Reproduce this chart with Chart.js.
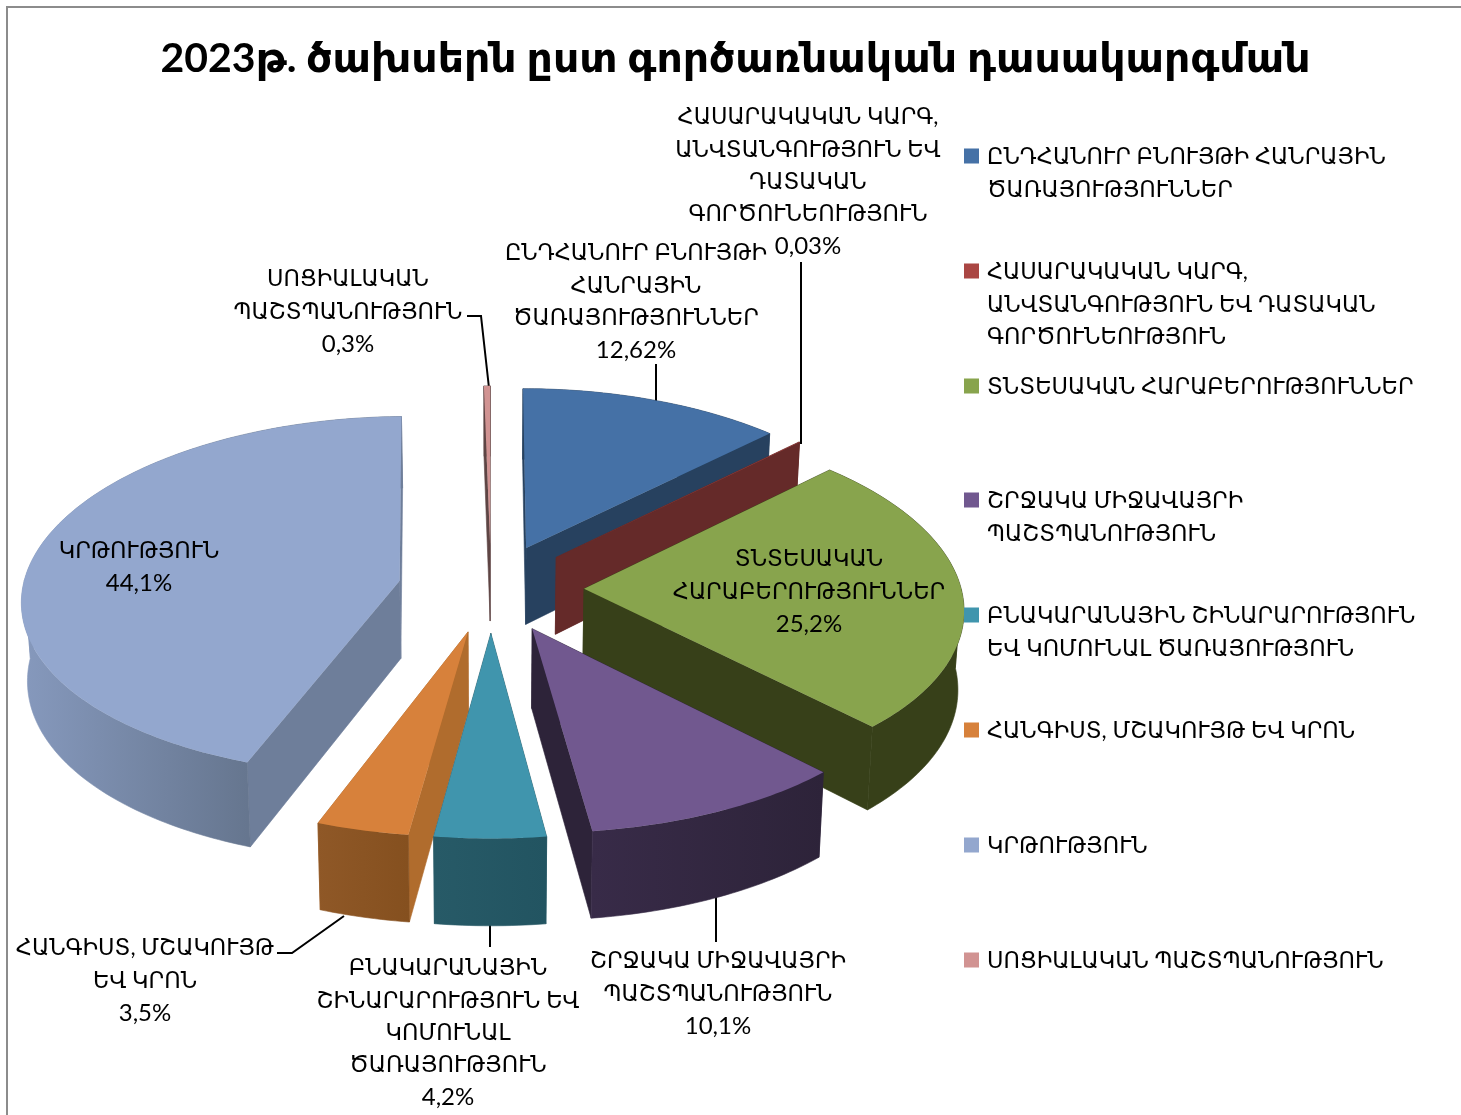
<!DOCTYPE html>
<html lang="hy">
<head>
<meta charset="utf-8">
<title>2023թ. ծախսերն ըստ գործառնական դասակարգման</title>
<style>
html,body{margin:0;padding:0;background:#fff;overflow:hidden}
#wrap{position:absolute;left:0;top:0;width:1461px;height:1115px}
#frameTop{position:absolute;left:6px;top:6px;width:1455px;height:2px;background:#8c8c8c}
#frameLeft{position:absolute;left:6px;top:6px;width:2px;height:1109px;background:#8c8c8c}
canvas{position:absolute;left:0;top:0}
</style>
<script src="https://cdn.jsdelivr.net/npm/chart.js@4/dist/chart.umd.min.js"></script>
</head>
<body>
<div id="wrap">
<canvas id="c" width="1461" height="1115"></canvas>
<div id="frameTop"></div><div id="frameLeft"></div>
</div>
<script>
const titleText = "2023թ. ծախսերն ըստ գործառնական դասակարգման";
const categories = [
  "ԸՆԴՀԱՆՈՒՐ ԲՆՈՒՅԹԻ ՀԱՆՐԱՅԻՆ ԾԱՌԱՅՈՒԹՅՈՒՆՆԵՐ",
  "ՀԱՍԱՐԱԿԱԿԱՆ ԿԱՐԳ, ԱՆՎՏԱՆԳՈՒԹՅՈՒՆ ԵՎ ԴԱՏԱԿԱՆ ԳՈՐԾՈՒՆԵՈՒԹՅՈՒՆ",
  "ՏՆՏԵՍԱԿԱՆ ՀԱՐԱԲԵՐՈՒԹՅՈՒՆՆԵՐ",
  "ՇՐՋԱԿԱ ՄԻՋԱՎԱՅՐԻ ՊԱՇՏՊԱՆՈՒԹՅՈՒՆ",
  "ԲՆԱԿԱՐԱՆԱՅԻՆ ՇԻՆԱՐԱՐՈՒԹՅՈՒՆ ԵՎ ԿՈՄՈՒՆԱԼ ԾԱՌԱՅՈՒԹՅՈՒՆ",
  "ՀԱՆԳԻՍՏ, ՄՇԱԿՈՒՅԹ ԵՎ ԿՐՈՆ",
  "ԿՐԹՈՒԹՅՈՒՆ",
  "ՍՈՑԻԱԼԱԿԱՆ ՊԱՇՏՊԱՆՈՒԹՅՈՒՆ"
];
const values = [12.62, 0.03, 25.2, 10.1, 4.2, 3.5, 44.1, 0.3];
const valueLabels = ["12,62%", "0,03%", "25,2%", "10,1%", "4,2%", "3,5%", "44,1%", "0,3%"];

// Line breaks of the texts
const legendLines = [
  ["ԸՆԴՀԱՆՈՒՐ ԲՆՈՒՅԹԻ ՀԱՆՐԱՅԻՆ", "ԾԱՌԱՅՈՒԹՅՈՒՆՆԵՐ"],
  ["ՀԱՍԱՐԱԿԱԿԱՆ ԿԱՐԳ,", "ԱՆՎՏԱՆԳՈՒԹՅՈՒՆ ԵՎ ԴԱՏԱԿԱՆ", "ԳՈՐԾՈՒՆԵՈՒԹՅՈՒՆ"],
  ["ՏՆՏԵՍԱԿԱՆ ՀԱՐԱԲԵՐՈՒԹՅՈՒՆՆԵՐ"],
  ["ՇՐՋԱԿԱ ՄԻՋԱՎԱՅՐԻ", "ՊԱՇՏՊԱՆՈՒԹՅՈՒՆ"],
  ["ԲՆԱԿԱՐԱՆԱՅԻՆ ՇԻՆԱՐԱՐՈՒԹՅՈՒՆ", "ԵՎ ԿՈՄՈՒՆԱԼ ԾԱՌԱՅՈՒԹՅՈՒՆ"],
  ["ՀԱՆԳԻՍՏ, ՄՇԱԿՈՒՅԹ ԵՎ ԿՐՈՆ"],
  ["ԿՐԹՈՒԹՅՈՒՆ"],
  ["ՍՈՑԻԱԼԱԿԱՆ ՊԱՇՏՊԱՆՈՒԹՅՈՒՆ"]
];
const dataLabelLines = [
  ["ԸՆԴՀԱՆՈՒՐ ԲՆՈՒՅԹԻ", "ՀԱՆՐԱՅԻՆ", "ԾԱՌԱՅՈՒԹՅՈՒՆՆԵՐ"],
  ["ՀԱՍԱՐԱԿԱԿԱՆ ԿԱՐԳ,", "ԱՆՎՏԱՆԳՈՒԹՅՈՒՆ ԵՎ", "ԴԱՏԱԿԱՆ", "ԳՈՐԾՈՒՆԵՈՒԹՅՈՒՆ"],
  ["ՏՆՏԵՍԱԿԱՆ", "ՀԱՐԱԲԵՐՈՒԹՅՈՒՆՆԵՐ"],
  ["ՇՐՋԱԿԱ ՄԻՋԱՎԱՅՐԻ", "ՊԱՇՏՊԱՆՈՒԹՅՈՒՆ"],
  ["ԲՆԱԿԱՐԱՆԱՅԻՆ", "ՇԻՆԱՐԱՐՈՒԹՅՈՒՆ ԵՎ", "ԿՈՄՈՒՆԱԼ", "ԾԱՌԱՅՈՒԹՅՈՒՆ"],
  ["ՀԱՆԳԻՍՏ, ՄՇԱԿՈՒՅԹ", "ԵՎ ԿՐՈՆ"],
  ["ԿՐԹՈՒԹՅՈՒՆ"],
  ["ՍՈՑԻԱԼԱԿԱՆ", "ՊԱՇՏՊԱՆՈՒԹՅՈՒՆ"]
];

// Styles and layout (not data)
const topColors = ["#4571a6", "#aa4643", "#88a44d", "#71588f", "#4095ad", "#d7813b", "#93a7ce", "#d19392"];
const radialWall = ["#27415f", "#652a29", "#374019", "#2d2339", "#255966", "#b06c2d", "#6e7e9a", "#5e4544"];
const outerFrom = ["#27415f", "#652a29", "#374019", "#2d2339", "#225461", "#85501f", "#66768f", "#5e4544"];
const outerTo   = ["#27415f", "#652a29", "#374019", "#382b48", "#275a67", "#8f5827", "#8699bd", "#5e4544"];
const legendCenterY = [157, 272, 387, 501, 616, 731, 846, 961];
const labelCenterX = [636, 808, 809, 718, 448, 145, 139, 348];
const labelFirstY = [253, 117, 559, 961, 968, 948, 551, 279];
const leaders = [
  [[656,364],[656,402]],
  [[801,262],[801,444]],
  [],
  [[716,896],[716,942]],
  [[490,925],[490,947]],
  [[277,953],[292,953],[344,916]],
  [],
  [[467,316],[481,316],[489,388]]
];
const PIE = {cx: 491, cy: 588, explode: 93, tilt: 0.476, perspX: 3800, perspY: 4400, depth: 78, shrink: 0.987};
const FONT = "'Lato','DejaVu Sans',sans-serif";
const TEXT_SIZE = 22.5, LINE_H = 32.4;

function project(u, v, low){
  const sx = PIE.perspX/(PIE.perspX+v), sy = PIE.perspY/(PIE.perspY+v);
  let x = PIE.cx + u*sx, y = PIE.cy - v*PIE.tilt*sy;
  if(low){ x = PIE.cx + (x-PIE.cx)*PIE.shrink; y += PIE.depth*sy; }
  return [x,y];
}
function poly(ctx, pts, fill, seal){
  ctx.beginPath();
  pts.forEach((p,i)=> i?ctx.lineTo(p[0],p[1]):ctx.moveTo(p[0],p[1]));
  ctx.closePath();
  ctx.fillStyle = fill; ctx.fill();
  if(seal){ ctx.strokeStyle = fill; ctx.lineWidth = 0.6; ctx.stroke(); }
}
function wallPoly(pts){
  const top = pts.map(p=>project(p[0],p[1]));
  const low = pts.map(p=>project(p[0],p[1],true)).reverse();
  return top.concat(low);
}

const pie3d = {
  id: 'pie3d',
  beforeDatasetsDraw(chart){
    const ctx = chart.ctx;
    ctx.save();
    ctx.strokeStyle = '#000'; ctx.lineWidth = 2;
    leaders.forEach(l=>{
      if(!l.length) return;
      ctx.beginPath();
      l.forEach((p,i)=> i?ctx.lineTo(p[0],p[1]):ctx.moveTo(p[0],p[1]));
      ctx.stroke();
    });
    const arcs = chart.getDatasetMeta(0).data.map((el,i)=>{
      const p = el.getProps(['startAngle','endAngle','outerRadius']);
      const a0 = p.startAngle+Math.PI/2, a1 = p.endAngle+Math.PI/2, am=(a0+a1)/2;
      return {i, a0, a1, r:p.outerRadius, color:el.options.backgroundColor,
              ou:PIE.explode*Math.sin(am), ov:PIE.explode*Math.cos(am)};
    }).sort((a,b)=>b.ov-a.ov);

    arcs.forEach(s=>{
      const n = Math.max(1, Math.ceil((s.a1-s.a0)/(Math.PI/180)));
      const rim = [], isFront = [];
      for(let k=0;k<=n;k++){
        const a = s.a0+(s.a1-s.a0)*k/n;
        rim.push([s.ou+s.r*Math.sin(a), s.ov+s.r*Math.cos(a)]);
        isFront.push(Math.cos(a)<0);
      }
      const apex = [s.ou,s.ov];
      const rimXs = rim.map(p=>project(p[0],p[1])[0]);
      const x0 = rimXs[0];
      const far = rimXs.reduce((m,x)=>Math.abs(x-x0)>Math.abs(m-x0)?x:m, x0);
      const grad = ctx.createLinearGradient(x0,0,far===x0?x0+1:far,0);
      grad.addColorStop(0,outerFrom[s.i]); grad.addColorStop(1,outerTo[s.i]);
      const runs = [];
      let run = [rim[0]], runFront = isFront[0];
      for(let k=1;k<=n;k++){
        run.push(rim[k]);
        if(isFront[k]!==runFront && k<n){ runs.push({front:runFront,pts:run}); run=[rim[k]]; runFront=isFront[k]; }
      }
      runs.push({front:runFront,pts:run});
      runs.filter(r=>!r.front).forEach(r=>poly(ctx,wallPoly(r.pts),grad,true));
      [[apex,rim[0]],[apex,rim[n]]]
        .sort((a,b)=>b[1][1]-a[1][1])
        .forEach(w=>poly(ctx,wallPoly(w),radialWall[s.i],true));
      runs.filter(r=>r.front).forEach(r=>poly(ctx,wallPoly(r.pts),grad,true));
      poly(ctx, [apex].concat(rim).map(p=>project(p[0],p[1])), s.color);
    });
    ctx.restore();
    return false;
  },
  afterDraw(chart){
    const ctx = chart.ctx;
    ctx.save();
    ctx.fillStyle = '#000';
    ctx.textBaseline = 'middle';
    ctx.font = TEXT_SIZE+'px '+FONT;
    ctx.textAlign = 'center';
    dataLabelLines.forEach((lines,i)=>{
      lines.forEach((t,j)=> ctx.fillText(t, labelCenterX[i], labelFirstY[i]+j*LINE_H));
      ctx.font = '24px '+FONT;
      ctx.fillText(valueLabels[i], labelCenterX[i], labelFirstY[i]+lines.length*LINE_H);
      ctx.font = TEXT_SIZE+'px '+FONT;
    });
    ctx.textAlign = 'left';
    legendLines.forEach((lines,i)=>{
      ctx.fillStyle = topColors[i];
      ctx.fillRect(964, legendCenterY[i]-8.5, 15, 15);
      ctx.fillStyle = '#000';
      lines.forEach((t,j)=> ctx.fillText(t, 987, legendCenterY[i]+j*LINE_H));
    });
    ctx.restore();
  }
};

new Chart(document.getElementById('c'), {
  type: 'pie',
  plugins: [pie3d],
  data: {
    labels: categories,
    datasets: [{ data: values, backgroundColor: topColors, borderWidth: 0 }]
  },
  options: {
    responsive: false,
    animation: false,
    radius: 377,
    layout: { padding: { left: 10 } },
    events: [],
    plugins: {
      legend: { display: false },
      tooltip: { enabled: false },
      title: {
        display: true,
        text: titleText,
        color: '#000',
        font: { family: FONT, size: 41, weight: 'bold', lineHeight: 1.2 },
        padding: { top: 34, bottom: 8 }
      }
    }
  }
});
</script>
</body>
</html>
